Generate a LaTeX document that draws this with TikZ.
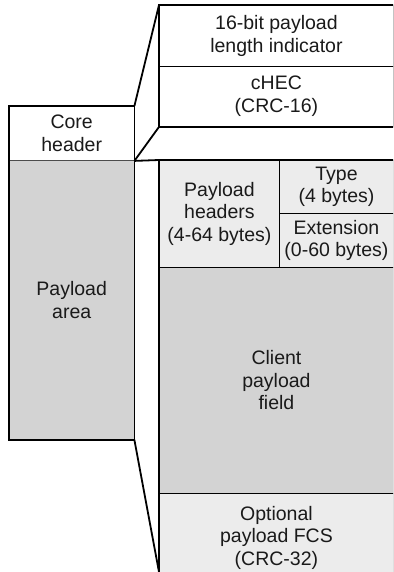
\documentclass[tikz,border=0pt]{standalone}
\usepackage{fontspec}
\setmainfont{Liberation Sans}
\definecolor{midgray}{HTML}{D3D3D3}
\definecolor{lightgray}{HTML}{ECECEC}
\definecolor{inkgray}{HTML}{1A1A1A}
\begin{document}
\begin{tikzpicture}[x=1pt,y=-1pt,
  box/.style={draw=black, line width=0.9pt, inner sep=0pt, anchor=north west,
    align=center, font=\fontsize{19.5}{22.5}\selectfont, text=inkgray},
  outer/.style={draw=black, line width=1.8pt, line join=miter},
]
\useasboundingbox (0,0) rectangle (393,572);
\clip (0,0) rectangle (393,572);
% left column
\node[box, fill=white, minimum width=124.5pt, minimum height=54pt] (core) at (9,106) {Core\\header};
\node[box, draw=black!70, fill=midgray, minimum width=124.5pt, minimum height=279pt] (parea) at (9,160) {Payload\\area};
% expanded core header
\node[box, fill=white, minimum width=234pt, minimum height=61pt] (len) at (159,5) {16-bit payload\\length indicator};
\node[box, fill=white, minimum width=234pt, minimum height=60pt] (chec) at (159,66) {cHEC\\(CRC-16)};
% expanded payload area
\node[box, fill=lightgray, minimum width=120pt, minimum height=107pt] (phdr) at (159,160) {Payload\\headers\\(4-64 bytes)};
\node[box, fill=lightgray, minimum width=114pt, minimum height=53pt] (type) at (279,160) {Type\\(4 bytes)};
\node[box, fill=lightgray, minimum width=114pt, minimum height=54pt] (ext) at (279,213) {Extension\\(0-60 bytes)};
\node[box, fill=midgray, minimum width=234pt, minimum height=226pt] (client) at (159,267) {Client\\payload\\field};
\node[box, fill=lightgray, minimum width=234pt, minimum height=88pt] (fcs) at (159,493) {Optional\\payload FCS\\(CRC-32)};
\coordinate (bottom) at (159,572);
% outlines
\draw[outer] (core.north west) rectangle (parea.south east);
\draw[outer] (len.north west) rectangle (chec.south east);
\draw[outer] (core.south east) -- (client.north west |- phdr.north) -- (type.north east);
\draw[outer] (phdr.north west) -- (fcs.south west);
% expansion lines
\draw[outer] (core.north east) -- (len.north west);
\draw[outer] (core.south east) -- (chec.south west);
\draw[outer] (parea.south east) -- (bottom);
\end{tikzpicture}
\end{document}
